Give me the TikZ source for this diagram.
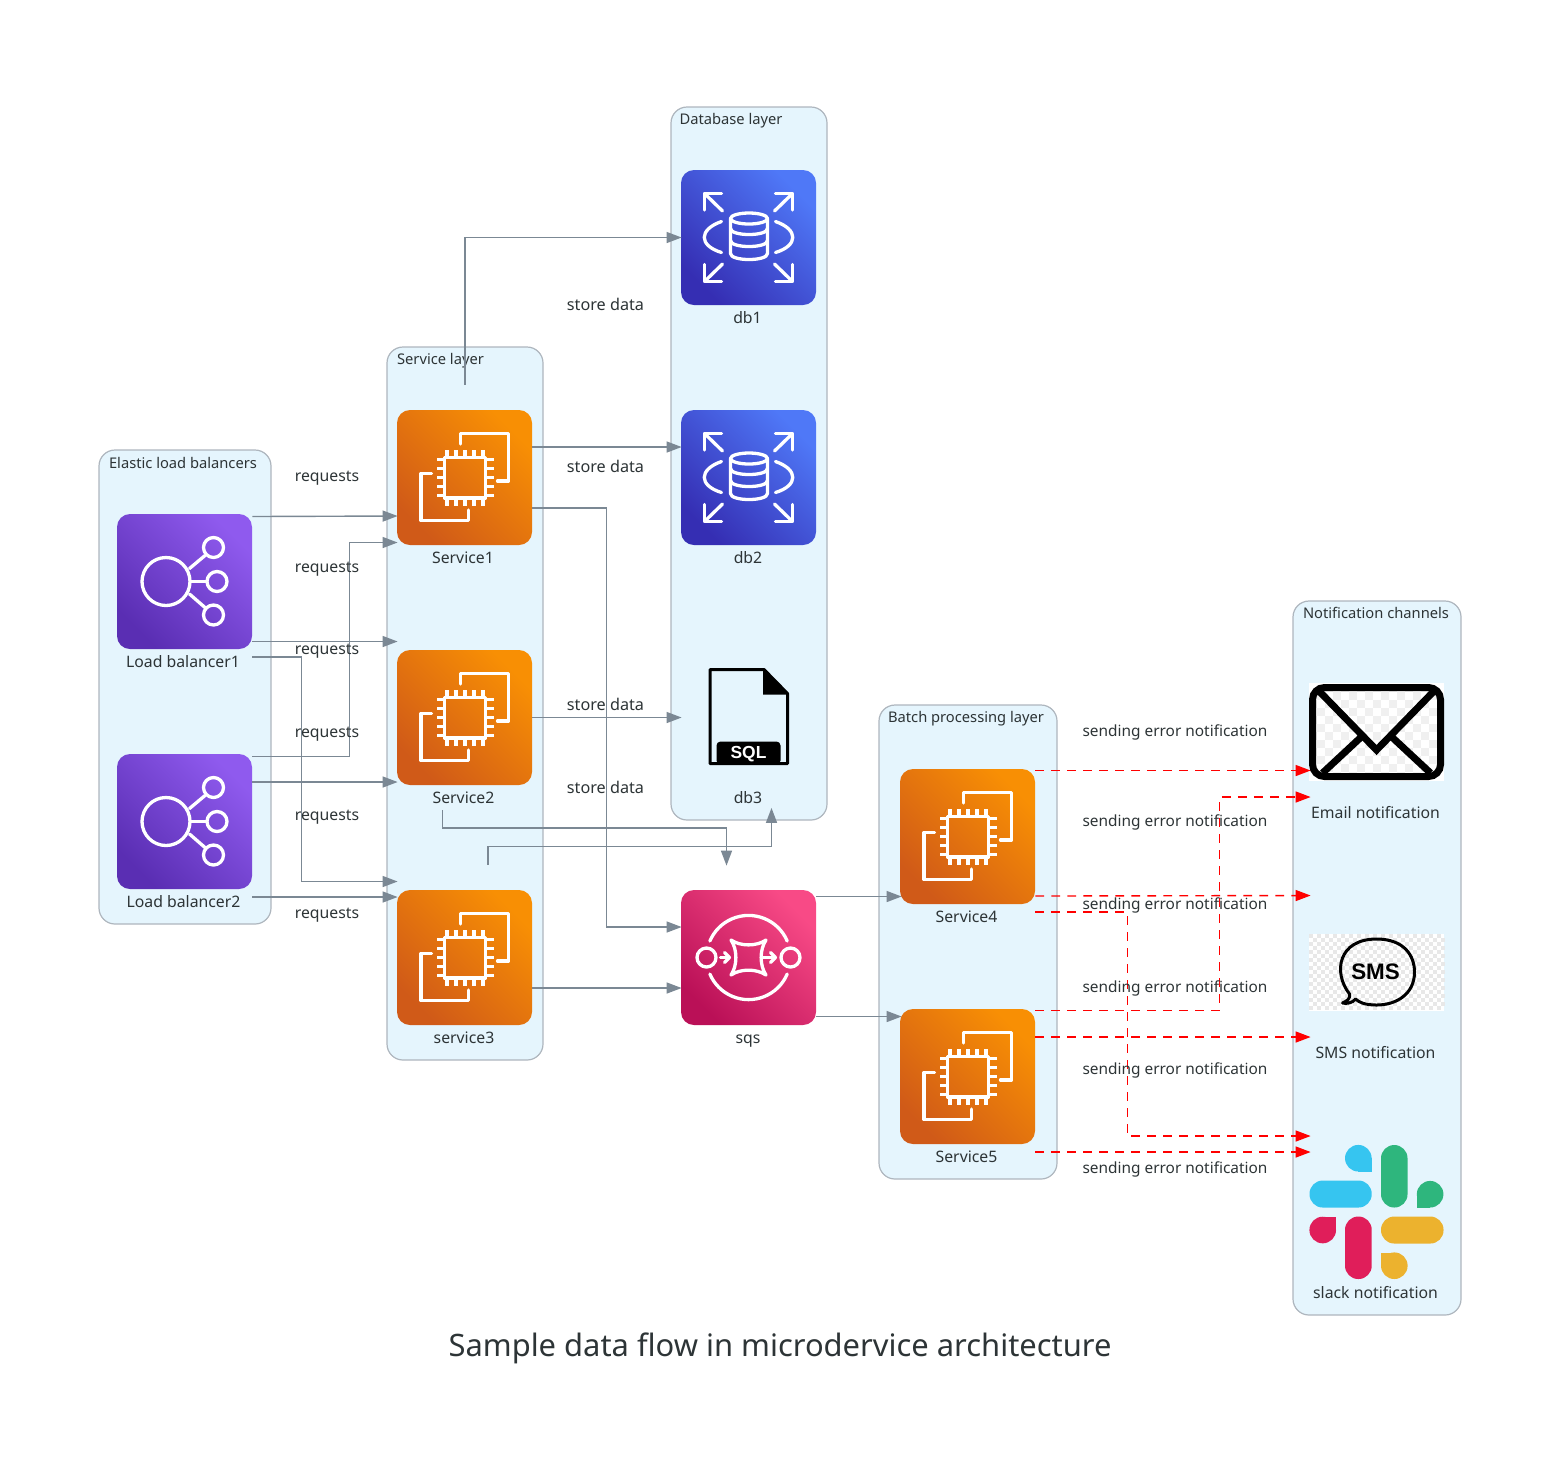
\documentclass[tikz,border=0pt]{standalone}
\usepackage{fontspec}
\setmainfont{Noto Sans}
\newfontfamily\iconfont{Liberation Sans}
\usetikzlibrary{arrows.meta,calc}

\definecolor{clusterfill}{HTML}{E5F5FD}
\definecolor{clusterline}{HTML}{AEB6BE}
\definecolor{flowgray}{HTML}{7B8894}
\definecolor{labelink}{HTML}{2D3436}
\definecolor{ec2dark}{HTML}{D05A18}
\definecolor{ec2light}{HTML}{F88F04}
\definecolor{elbdark}{HTML}{5A2EB3}
\definecolor{elblight}{HTML}{8F5AEE}
\definecolor{rdsdark}{HTML}{352EB3}
\definecolor{rdslight}{HTML}{4F78F7}
\definecolor{sqsdark}{HTML}{BA1057}
\definecolor{sqslight}{HTML}{F84A86}
\definecolor{slackblue}{HTML}{36C5F0}
\definecolor{slackgreen}{HTML}{2EB67D}
\definecolor{slackred}{HTML}{E01E5A}
\definecolor{slackyellow}{HTML}{ECB22E}

\tikzset{
  x=0.5pt, y=-0.5pt,
  clusterbox/.style={draw=clusterline, fill=clusterfill, line width=0.6pt, rounded corners=8pt, inner sep=0pt},
  tilebox/.style={rounded corners=6.5pt, minimum size=67.5pt, inner sep=0pt},
  ec2tile/.style={tilebox, left color=ec2dark, right color=ec2light, shading angle=135},
  elbtile/.style={tilebox, left color=elbdark, right color=elblight, shading angle=135},
  rdstile/.style={tilebox, left color=rdsdark, right color=rdslight, shading angle=135},
  sqstile/.style={tilebox, left color=sqsdark, right color=sqslight, shading angle=135},
  slot/.style={minimum width=67.5pt, minimum height=#1, inner sep=0pt},
  labeltext/.style={font=\fontsize{7.9}{9}\selectfont, text=labelink, inner sep=0pt, text height=5.5pt, text depth=0pt},
  clustertitle/.style={labeltext, font=\fontsize{7.35}{9}\selectfont},
  errortext/.style={labeltext, font=\fontsize{7.7}{9}\selectfont},
  flowline/.style={draw=flowgray, line width=0.7pt, -{Triangle[length=7.5pt,width=5.5pt]}},
  errorline/.style={draw=red, line width=0.7pt, dash pattern=on 4.4pt off 3.6pt, -{Triangle[length=7.5pt,width=5.5pt]}},
  iconline/.style={draw=white, line width=1.65pt, line join=round, line cap=round},
  ec2icon/.pic={
    \draw[iconline] (-20,-20) rectangle (21,20.5);
    \foreach \t in {-18,-9,0,9,18}{
      \draw[iconline, line cap=butt] (\t+0.5,-20) -- (\t+0.5,-28);
      \draw[iconline, line cap=butt] (\t+0.5,20) -- (\t+0.5,28);
      \draw[iconline, line cap=butt] (-20,\t) -- (-28,\t);
      \draw[iconline, line cap=butt] (21,\t) -- (29,\t);
    }
    \draw[iconline] (-4,-33.5) -- (-4,-44) -- (44,-44) -- (44,3.5) -- (33,3.5);
    \draw[iconline] (-33,-4) -- (-43.5,-4) -- (-43.5,43) -- (4,43) -- (4,32.5);
  },
  elbicon/.pic={
    \draw[iconline] (-18.5,0) circle[radius=24];
    \draw[iconline] (29,-34) circle[radius=10];
    \draw[iconline] (32.5,0) circle[radius=10];
    \draw[iconline] (29,33.5) circle[radius=10];
    \draw[iconline] (5,-13) -- (20.5,-26);
    \draw[iconline] (6,0) -- (22,0);
    \draw[iconline] (5,12.5) -- (20.5,26);
  },
  rdsicon/.pic={
    \draw[iconline] (-44,-27.5) -- (-44,-44) -- (-27,-44);
    \draw[iconline] (-44,-44) -- (-26,-26.5);
    \draw[iconline] (44,-27.5) -- (44,-44) -- (27,-44);
    \draw[iconline] (44,-44) -- (26,-26.5);
    \draw[iconline] (-44,27) -- (-44,44) -- (-27,44);
    \draw[iconline] (-44,44) -- (-26,26.5);
    \draw[iconline] (44,27) -- (44,44) -- (27,44);
    \draw[iconline] (44,44) -- (26,26.5);
    \draw[iconline] (-27,-16) .. controls (-50,-8) and (-50,8) .. (-27,15);
    \draw[iconline] (27,-16) .. controls (50,-8) and (50,8) .. (27,15);
    \draw[iconline] (0.5,-19) ellipse[x radius=18.5, y radius=5.5];
    \draw[iconline] (-18,-19) -- (-18,16) .. controls (-18,24) and (19,24) .. (19,16) -- (19,-19);
    \draw[iconline] (-18,-9) .. controls (-18,-1) and (19,-1) .. (19,-9);
    \draw[iconline] (-18,3) .. controls (-18,11) and (19,11) .. (19,3);
  },
  sqsicon/.pic={
    \draw[iconline] (38.7,-16.5) arc[start angle=337, end angle=203, radius=42];
    \draw[iconline] (38.7,16.5) arc[start angle=23, end angle=157, radius=42];
    \draw[iconline] (-42,0) circle[radius=9.5];
    \draw[iconline] (42,0) circle[radius=9.5];
    \draw[iconline] (-17.5,-17.5) .. controls (-8,-11) and (8,-11) .. (17.5,-17.5)
      .. controls (11,-8) and (11,8) .. (17.5,17.5)
      .. controls (8,11) and (-8,11) .. (-17.5,17.5)
      .. controls (-11,8) and (-11,-8) .. (-17.5,-17.5) -- cycle;
    \draw[iconline] (-28,0) -- (-19,0);
    \draw[iconline] (-24,-5) -- (-19,0) -- (-24,5);
    \draw[iconline] (15,0) -- (27,0);
    \draw[iconline] (22,-5) -- (27,0) -- (22,5);
  },
  sqlicon/.pic={
    \draw[black, line width=1.5pt, line join=round] (-38.5,-48) -- (15.5,-48) -- (39,-24) -- (39,46) -- (-38.5,46) -- cycle;
    \fill[black] (14.5,-49) -- (40,-23) -- (14.5,-23) -- cycle;
    \fill[black, rounded corners=2pt] (-32,47) -- (-32,24) -- (32,24) -- (32,47) -- cycle;
  },
  mailicon/.pic={
    \fill[white] (-67.5,-49) rectangle (67.5,49);
    \begin{scope}
      \clip (-62,-42) rectangle (62,42);
      \foreach \i in {0,...,16}{
        \foreach \j in {0,...,11}{
          \pgfmathparse{int(mod(\i+\j,2))}
          \ifnum\pgfmathresult=0
            \fill[black!6] (-68+\i*8,-48+\j*8) rectangle ++(8,8);
          \fi
        }
      }
    \end{scope}
    \draw[black, line width=3.5pt, rounded corners=6pt] (-64,-44.5) rectangle (64,44.5);
    \draw[black, line width=3.5pt] (-58.5,-42) -- (0,18) -- (58.5,-42);
    \draw[black, line width=3.5pt] (-54,41) -- (-15,4.7);
    \draw[black, line width=3.5pt] (54,41) -- (15,4.7);
  },
  smsicon/.pic={
    \fill[white] (-67.5,-38.5) rectangle (67.5,38.5);
    \foreach \i in {0,...,33}{
      \foreach \j in {0,...,18}{
        \pgfmathparse{int(mod(\i+\j,2))}
        \ifnum\pgfmathresult=0
          \fill[black!9] (-67.5+\i*4,-38.5+\j*4) rectangle ++(4,4);
        \fi
      }
    }
    \draw[black, line width=1.5pt, line join=round] (-27,22)
      .. controls (-44,0) and (-38,-33) .. (0,-33)
      .. controls (28,-33) and (38,-16) .. (38,0)
      .. controls (38,22) and (20,33) .. (0,33)
      .. controls (-12,33) and (-18,30) .. (-21,27)
      .. controls (-24,31) and (-30,32) .. (-34,31)
      .. controls (-29,29) and (-26,26) .. (-27,22) -- cycle;
  },
  slackicon/.pic={
    % pills
    \fill[slackblue, rounded corners=6.6pt] (-67,-32) rectangle (-4.8,-5);
    \fill[slackgreen, rounded corners=6.6pt] (4.5,-67.5) rectangle (31,-5);
    \fill[slackred, rounded corners=6.6pt] (-31.5,4) rectangle (-4.8,66.5);
    \fill[slackyellow, rounded corners=6.6pt] (4.5,4) rectangle (67,31);
    % drops
    \fill[slackblue] (-18.2,-54.3) circle[radius=13.3];
    \fill[slackblue] (-18.2,-54.3) rectangle (-4.8,-41);
    \fill[slackgreen] (53.6,-18.3) circle[radius=13.3];
    \fill[slackgreen] (53.6,-18.3) rectangle (40,-5);
    \fill[slackred] (-53.8,17.5) circle[radius=13.3];
    \fill[slackred] (-53.8,17.5) rectangle (-40.5,4);
    \fill[slackyellow] (17.8,53.2) circle[radius=13.3];
    \fill[slackyellow] (17.8,53.2) rectangle (4.5,40);
  }
}

\begin{document}
\begin{tikzpicture}
\useasboundingbox (0,0) rectangle (1561,1469);

% clusters
\node (elbcluster) [clusterbox, minimum width=86pt, minimum height=237pt] at (185,687) {};
\node (servicecluster) [clusterbox, minimum width=78pt, minimum height=356.5pt] at (465,703.5) {};
\node (dbcluster) [clusterbox, minimum width=78pt, minimum height=356.5pt] at (749,463.5) {};
\node (batchcluster) [clusterbox, minimum width=89pt, minimum height=237pt] at (968,942) {};
\node (notifycluster) [clusterbox, minimum width=84pt, minimum height=357pt] at (1377,958) {};

\node (elbtitle) [clustertitle] at (183,463) {Elastic load balancers};
\node (servicetitle) [clustertitle] at (440.5,359) {Service layer};
\node (dbtitle) [clustertitle] at (731,119) {Database layer};
\node (batchtitle) [clustertitle] at (966,717) {Batch processing layer};
\node (notifytitle) [clustertitle] at (1376,613) {Notification channels};

% tiles
\node (lb1) [elbtile] at (184.5,581.5) {};
\node (lb2) [elbtile] at (184.5,821.5) {};
\node (service1) [ec2tile] at (464.5,477.5) {};
\node (service2) [ec2tile] at (464.5,717.5) {};
\node (service3) [ec2tile] at (464.5,957.5) {};
\node (db1) [rdstile] at (748.5,237.5) {};
\node (db2) [rdstile] at (748.5,477.5) {};
\node (db3) [slot=67.5pt] at (748.5,717.5) {};
\node (sqs) [sqstile] at (748.5,957.5) {};
\node (service4) [ec2tile] at (967.5,836.5) {};
\node (service5) [ec2tile] at (967.5,1076.5) {};
\node (email) [slot=49pt] at (1376.5,732) {};
\node (sms) [slot=38.5pt] at (1376.5,972) {};
\node (slack) [slot=67.5pt] at (1376.5,1212.5) {};

\pic at (lb1) {elbicon};
\pic at (lb2) {elbicon};
\pic at (service1) {ec2icon};
\pic at (service2) {ec2icon};
\pic at (service3) {ec2icon};
\pic at (service4) {ec2icon};
\pic at (service5) {ec2icon};
\pic at (db1) {rdsicon};
\pic at (db2) {rdsicon};
\pic at (db3) {sqlicon};
\pic at (sqs) {sqsicon};
\pic at (email) {mailicon};
\pic at (sms) {smsicon};
\pic at (slack) {slackicon};
\node (sqltext) [text=white, inner sep=0pt, font=\iconfont\fontsize{8.7}{9}\bfseries\selectfont] at ($(db3)+(0,36.5)$) {SQL};
\node (smstext) [text=black, inner sep=0pt, font=\iconfont\fontsize{11.2}{14}\bfseries\selectfont] at ($(sms)+(-1,0)$) {SMS};

%-------------------------------------
% balancers to services
\draw[flowline] ($(lb1.east)+(0,-65)$) -- ($(service1.west)+(1,38.5)$);
\draw[flowline] ($(lb1.east)+(0,60)$) -- ($(service2.west)+(1,-76)$);
\draw[flowline] ($(lb1.east)+(0,75.5)$) -- ++(49,0) |- ($(service3.west)+(1,-76)$);
\draw[flowline] ($(lb2.east)+(0,-65)$) -- ++(97,0) |- ($(service1.west)+(1,65)$);
\draw[flowline] ($(lb2.east)+(0,-39.5)$) -- ($(service2.west)+(1,64.5)$);
\draw[flowline] ($(lb2.east)+(0,75.5)$) -- ($(service3.west)+(1,-60.5)$);

% services to data
\draw[flowline] ($(service1.north)+(0.5,-25)$) |- ($(db1.west)+(1,0)$);
\draw[flowline] ($(service1.east)+(0,-30.5)$) -- ($(db2.west)+(1,-30.5)$);
\draw[flowline] ($(service1.east)+(0,30.5)$) -- ++(74,0) |- ($(sqs.west)+(1,-30.5)$);
\draw[flowline] (service2.east) -- ($(db3.west)+(1,0)$);
\draw[flowline] ($(service2.south)+(-22,25)$) -- ++(0,17.5) -| ($(sqs.north)+(-22,-24)$);
\draw[flowline] ($(service3.north)+(23.5,-25)$) -- ++(0,-18) -| ($(db3.south)+(23,22.5)$);
\draw[flowline] ($(service3.east)+(0,30.5)$) -- ($(sqs.west)+(1,30.5)$);
\draw[flowline] ($(sqs.east)+(0,-61)$) -- ($(service4.west)+(2,60)$);
\draw[flowline] ($(sqs.east)+(0,59)$) -- ($(service5.west)+(2,-60)$);

% errors to channels
\draw[errorline] ($(service4.east)+(0,-66)$) -- ($(email.west)+(2,38.5)$);
\draw[errorline] ($(service4.east)+(0,59.5)$) -- ($(sms.west)+(2,-76.5)$);
\draw[errorline] ($(service4.east)+(0,75.5)$) -- ++(92,0) |- ($(slack.west)+(2,-76.5)$);
\draw[errorline] ($(service5.east)+(0,-66)$) -- ++(184,0) |- ($(email.west)+(2,65)$);
\draw[errorline] ($(service5.east)+(0,-39.5)$) -- ($(sms.west)+(2,65)$);
\draw[errorline] ($(service5.east)+(0,75.5)$) -- ($(slack.west)+(2,-60.5)$);

%-------------------------------------
\node (lb1label) [labeltext] at (183,662) {Load balancer1};
\node (lb2label) [labeltext] at (183.5,902) {Load balancer2};
\node (service1label) [labeltext] at (463,558) {Service1};
\node (service2label) [labeltext] at (463.5,798) {Service2};
\node (service3label) [labeltext] at (464,1038) {service3};
\node (db1label) [labeltext] at (747.5,318) {db1};
\node (db2label) [labeltext] at (748,558) {db2};
\node (db3label) [labeltext] at (748,798) {db3};
\node (sqslabel) [labeltext] at (748,1038) {sqs};
\node (service4label) [labeltext] at (966.5,917) {Service4};
\node (service5label) [labeltext] at (966.5,1157) {Service5};
\node (emaillabel) [labeltext] at (1375.5,813) {Email notification};
\node (smslabel) [labeltext] at (1375.5,1053) {SMS notification};
\node (slacklabel) [labeltext] at (1375.5,1293) {slack notification};

\node (req1) [labeltext] at (327,476) {requests};
\node (req2) [labeltext] at (327,567) {requests};
\node (req3) [labeltext] at (327,649) {requests};
\node (req4) [labeltext] at (327,732) {requests};
\node (req5) [labeltext] at (327,815) {requests};
\node (req6) [labeltext] at (327,913) {requests};

\node (store1) [labeltext, font=\fontsize{8.1}{9}\selectfont] at (605.5,305) {store data};
\node (store2) [labeltext, font=\fontsize{8.1}{9}\selectfont] at (605.5,467) {store data};
\node (store3) [labeltext, font=\fontsize{8.1}{9}\selectfont] at (605.5,705) {store data};
\node (store4) [labeltext, font=\fontsize{8.1}{9}\selectfont] at (605.5,788) {store data};

\node (err1) [errortext] at (1175,731) {sending error notification};
\node (err2) [errortext] at (1175,821) {sending error notification};
\node (err3) [errortext] at (1175,904) {sending error notification};
\node (err4) [errortext] at (1175,987) {sending error notification};
\node (err5) [errortext] at (1175,1069) {sending error notification};
\node (err6) [errortext] at (1175,1168) {sending error notification};

\node (charttitle) [labeltext, font=\fontsize{15.45}{19}\selectfont, text height=11pt] at (780,1345) {Sample data flow in microdervice architecture};
\end{tikzpicture}
\end{document}
